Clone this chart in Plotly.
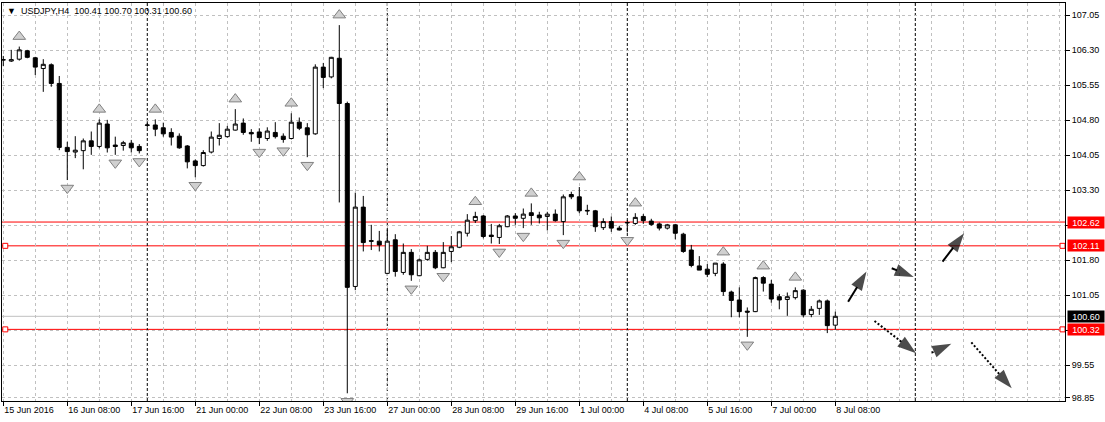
import plotly.graph_objects as go

SYMBOL = "USDJPY"
TIMEFRAME = "H4"

# H4 bars, bar 0 = 15 Jun 2016 00:00 (weekends skipped)
OPEN = [106.09, 106.07, 106.11, 106.29, 106.14, 105.91, 105.99, 105.59, 104.22, 104.12,
        104.15, 104.36, 104.24, 104.72, 104.27, 104.26, 104.31, 104.24, 104.69, 104.70,
        104.64, 104.54, 104.46, 104.25, 103.93, 103.83, 104.12, 104.41, 104.45, 104.59,
        104.74, 104.54, 104.55, 104.41, 104.54, 104.46, 104.41, 104.76, 104.64, 104.51,
        105.94, 105.73, 106.13, 105.16, 101.24, 102.94, 102.22, 102.21, 101.52, 102.24,
        101.54, 101.97, 101.47, 101.82, 101.97, 101.64, 101.99, 102.08, 102.38, 102.65,
        102.75, 102.34, 102.29, 102.52, 102.75, 102.70, 102.82, 102.77, 102.74, 102.79,
        102.63, 103.21, 103.16, 102.87, 102.86, 102.50, 102.63, 102.49, 102.60, 102.59,
        102.74, 102.64, 102.58, 102.49, 102.56, 102.36, 102.02, 101.68, 101.61, 101.52,
        101.72, 101.12, 100.95, 100.71, 100.70, 101.43, 101.29, 101.02, 100.96, 101.00,
        101.16, 100.64, 100.77, 100.93, 100.41]
HIGH = [106.18, 106.31, 106.38, 106.31, 106.16, 106.11, 106.02, 105.75, 104.34, 104.46,
        104.41, 104.56, 104.82, 104.81, 104.45, 104.36, 104.38, 104.29, 104.78, 104.82,
        104.75, 104.63, 104.52, 104.27, 103.96, 104.16, 104.56, 104.74, 104.68, 105.04,
        104.84, 104.61, 104.63, 104.65, 104.76, 104.52, 104.95, 104.86, 104.74, 106.00,
        106.03, 106.16, 106.84, 105.20, 103.25, 103.18, 102.56, 102.43, 102.46, 102.36,
        102.16, 102.04, 101.84, 102.11, 102.02, 102.19, 102.32, 102.43, 102.79, 102.84,
        102.77, 102.58, 102.58, 102.77, 102.81, 102.91, 103.02, 102.84, 102.84, 102.89,
        103.21, 103.27, 103.37, 102.99, 102.88, 102.70, 102.74, 102.54, 102.66, 102.81,
        102.79, 102.69, 102.61, 102.58, 102.58, 102.39, 102.13, 101.89, 101.72, 101.74,
        101.76, 101.15, 101.22, 100.79, 101.45, 101.46, 101.38, 101.08, 101.11, 101.22,
        101.18, 100.82, 100.96, 100.96, 100.70]
LOW = [105.96, 106.05, 106.08, 106.13, 105.77, 105.41, 105.52, 104.16, 103.52, 103.99,
       103.75, 104.06, 104.20, 104.11, 104.06, 104.15, 104.11, 104.09, 104.64, 104.46,
       104.45, 104.26, 104.19, 103.77, 103.58, 103.81, 104.09, 104.26, 104.43, 104.58,
       104.49, 104.34, 104.29, 104.36, 104.41, 104.32, 104.39, 104.59, 104.01, 104.49,
       105.49, 105.70, 103.04, 98.95, 101.16, 101.99, 102.02, 101.99, 101.51, 101.45,
       101.49, 101.36, 101.46, 101.79, 101.61, 101.63, 101.76, 102.06, 102.31, 102.60,
       102.27, 102.16, 102.15, 102.51, 102.56, 102.49, 102.56, 102.59, 102.44, 102.63,
       102.34, 103.11, 102.81, 102.77, 102.41, 102.45, 102.41, 102.44, 102.40, 102.56,
       102.58, 102.54, 102.44, 102.46, 102.25, 101.96, 101.65, 101.59, 101.44, 101.46,
       101.04, 100.58, 100.58, 100.16, 100.69, 101.13, 100.89, 100.75, 100.61, 100.96,
       100.58, 100.58, 100.63, 100.24, 100.31]
CLOSE = [106.10, 106.10, 106.31, 106.15, 105.94, 106.00, 105.59, 104.22, 104.13, 104.16,
         104.36, 104.24, 104.74, 104.21, 104.24, 104.32, 104.21, 104.15, 104.70, 104.61,
         104.51, 104.44, 104.21, 103.91, 103.83, 104.11, 104.44, 104.48, 104.61, 104.72,
         104.54, 104.51, 104.43, 104.57, 104.45, 104.39, 104.76, 104.63, 104.49, 105.94,
         105.72, 106.15, 105.16, 101.22, 102.94, 102.18, 102.21, 102.13, 102.21, 101.56,
         101.97, 101.49, 101.81, 101.97, 101.64, 101.97, 102.09, 102.41, 102.66, 102.74,
         102.31, 102.31, 102.54, 102.75, 102.70, 102.79, 102.76, 102.71, 102.79, 102.65,
         103.16, 103.16, 102.86, 102.86, 102.52, 102.63, 102.49, 102.45, 102.61, 102.72,
         102.65, 102.57, 102.49, 102.56, 102.38, 101.99, 101.69, 101.59, 101.50, 101.74,
         101.13, 100.94, 100.70, 100.69, 101.43, 101.31, 100.97, 100.95, 101.02, 101.15,
         100.63, 100.75, 100.93, 100.40, 100.60]
BARS = list(range(len(OPEN)))

DATE_LABEL_BARS = [0, 8, 16, 24, 32, 40, 48, 56, 64, 72, 80, 88, 96, 104]
DATE_LABELS = ["15 Jun 2016", "16 Jun 08:00", "17 Jun 16:00", "21 Jun 00:00", "22 Jun 08:00",
               "23 Jun 16:00", "27 Jun 00:00", "28 Jun 08:00", "29 Jun 16:00", "1 Jul 00:00",
               "4 Jul 08:00", "5 Jul 16:00", "7 Jul 00:00", "8 Jul 08:00"]
PRICE_TICKS = [107.05, 106.30, 105.55, 104.80, 104.05, 103.30, 102.55, 101.80, 101.05,
               100.30, 99.55, 98.85]
WEEK_SEPARATOR_BARS = [18, 48, 78, 114]

UP_FRACTAL_BARS = [2, 12, 19, 29, 36, 42, 59, 66, 72, 79, 90, 95, 99]
DOWN_FRACTAL_BARS = [8, 14, 17, 24, 32, 35, 38, 43, 51, 55, 62, 65, 70, 78, 93]

RED_LEVELS = [102.62, 102.11, 100.32]
ANCHORED_LEVELS = [102.11, 100.32]
LEVEL_ANCHOR_BARS = [0.25, 132.4]
BID = 100.60

# hand-drawn forecast arrows: (bar, price) start -> end
SOLID_ARROWS = [((105.6, 100.91), (107.9, 101.56)),
                ((111.05, 101.63), (113.8, 101.44)),
                ((117.4, 101.77), (120.1, 102.38))]
DOTTED_ARROWS = [((108.9, 100.50), (114.1, 99.81)),
                 ((116.05, 99.82), (118.5, 100.01)),
                 ((121.0, 100.04), (126.05, 99.06))]

X_RANGE = [-0.16, 132.71]
Y_RANGE = [98.785, 107.314]
PX_PER_PRICE = 398 / (Y_RANGE[1] - Y_RANGE[0])
UP_GAP = 10 / PX_PER_PRICE
DOWN_GAP = 8 / PX_PER_PRICE

FONT = "Liberation Sans"
GRID = "#c0c0c0"

fig = go.Figure()

fig.add_trace(go.Candlestick(
    x=BARS, open=OPEN, high=HIGH, low=LOW, close=CLOSE,
    increasing=dict(line=dict(color="black", width=1), fillcolor="white"),
    decreasing=dict(line=dict(color="black", width=1), fillcolor="black"),
    whiskerwidth=0, hoverinfo="skip", showlegend=False))

fig.add_trace(go.Scatter(
    x=UP_FRACTAL_BARS, y=[HIGH[i] + UP_GAP for i in UP_FRACTAL_BARS], mode="markers",
    marker=dict(symbol="triangle-up", size=11, color="#d0d0d0",
                line=dict(color="#808080", width=1)),
    hoverinfo="skip", showlegend=False))
fig.add_trace(go.Scatter(
    x=DOWN_FRACTAL_BARS, y=[LOW[i] - DOWN_GAP for i in DOWN_FRACTAL_BARS], mode="markers",
    marker=dict(symbol="triangle-down", size=11, color="#d0d0d0",
                line=dict(color="#808080", width=1)),
    hoverinfo="skip", showlegend=False))

for lvl in ANCHORED_LEVELS:
    fig.add_trace(go.Scatter(
        x=LEVEL_ANCHOR_BARS, y=[lvl] * len(LEVEL_ANCHOR_BARS), mode="markers",
        marker=dict(symbol="square", size=5, color="white", line=dict(color="red", width=1)),
        hoverinfo="skip", showlegend=False))

for arrows, dash in ((SOLID_ARROWS, "solid"), (DOTTED_ARROWS, "2px,2px")):
    for (x0, y0), (x1, y1) in arrows:
        fig.add_trace(go.Scatter(
            x=[x0, x1], y=[y0, y1], mode="lines+markers",
            line=dict(color="black", width=2, dash=dash),
            marker=dict(symbol="arrow", size=[0, 20], color="black",
                        angleref="previous", line=dict(width=0)),
            hoverinfo="skip", showlegend=False))

shapes = []
for lvl in RED_LEVELS:
    shapes.append(dict(type="line", xref="paper", x0=0, x1=1, yref="y", y0=lvl, y1=lvl,
                       line=dict(color="red", width=1), layer="below"))
shapes.append(dict(type="line", xref="paper", x0=0, x1=1, yref="y", y0=BID, y1=BID,
                   line=dict(color="#c0c0c0", width=1), layer="below"))
for b in WEEK_SEPARATOR_BARS:
    shapes.append(dict(type="line", xref="x", x0=b, x1=b, yref="paper", y0=0, y1=1,
                       line=dict(color="black", width=1, dash="3px,2px"), layer="below"))

BOXES = [(RED_LEVELS[0], "red"), (RED_LEVELS[1], "red"), (BID, "black"), (RED_LEVELS[2], "red")]
annotations = []
for lvl, bg in BOXES:
    annotations.append(dict(xref="paper", x=1, yref="y", y=lvl, xanchor="left", yanchor="middle",
                            xshift=2, text=f"{lvl:.2f}", showarrow=False, bgcolor=bg,
                            width=36, height=11, borderpad=0, align="center",
                            font=dict(family=FONT, size=9, color="white")))
title_text = (f"<span style='font-size:9px'>▼</span>  {SYMBOL},{TIMEFRAME}  "
              f"{OPEN[-1]:.2f} {HIGH[-1]:.2f} {LOW[-1]:.2f} {CLOSE[-1]:.2f}")
annotations.append(dict(xref="paper", x=0, yref="paper", y=1, xanchor="left", yanchor="top",
                        xshift=3, yshift=-1, text=title_text, showarrow=False,
                        font=dict(family=FONT, size=9, color="black")))

# price-axis labels that sit under a coloured price box are hidden (as in the terminal)
box_levels = [lvl for lvl, _ in BOXES]
tick_text = ["" if any(abs(v - b) < 0.12 for b in box_levels) else f"{v:.2f}" for v in PRICE_TICKS]

fig.update_layout(
    width=1105, height=422,
    margin=dict(l=2, r=40, t=3, b=21),
    paper_bgcolor="white", plot_bgcolor="white",
    showlegend=False, boxgap=0.5, boxgroupgap=0,
    font=dict(family=FONT, size=9, color="black"),
    shapes=shapes, annotations=annotations,
    xaxis=dict(range=X_RANGE, rangeslider=dict(visible=False),
               tickvals=DATE_LABEL_BARS, ticktext=DATE_LABELS,
               ticks="outside", ticklen=4, tickcolor="black",
               ticklabelposition="outside right",
               showgrid=True, gridcolor=GRID, griddash="3px,3px", gridwidth=1,
               minor=dict(dtick=4, tick0=0, showgrid=True, gridcolor=GRID,
                          griddash="3px,3px", ticks=""),
               showline=True, mirror=True, linecolor="black", linewidth=1,
               zeroline=False, fixedrange=True),
    yaxis=dict(range=Y_RANGE, side="right",
               tickvals=PRICE_TICKS, ticktext=tick_text,
               ticks="outside", ticklen=4, tickcolor="black",
               showgrid=True, gridcolor=GRID, griddash="3px,3px", gridwidth=1,
               showline=True, mirror=True, linecolor="black", linewidth=1,
               zeroline=False, fixedrange=True),
)

fig.write_html("out.html", config={"displayModeBar": False},
               post_script="document.body.style.margin='0';document.body.style.overflow='hidden';")
